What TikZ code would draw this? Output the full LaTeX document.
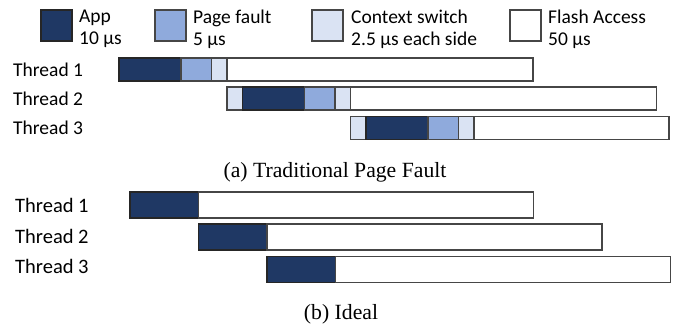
\documentclass[tikz,border=0pt]{standalone}
\usepackage{fontspec}
\setmainfont{Liberation Serif}
\newfontfamily\calib{Carlito}
\usepackage{tikz}
\usetikzlibrary{positioning}

\definecolor{appblue}{RGB}{31,56,100}
\definecolor{pfblue}{RGB}{143,170,220}
\definecolor{ctxblue}{RGB}{218,227,243}
\definecolor{edgegray}{RGB}{70,70,70}

\begin{document}
\begin{tikzpicture}[x=1pt,y=-1pt,
    seg/.style={rectangle,draw=edgegray,line width=1.2pt,inner sep=0pt,outer sep=0pt,minimum height=23pt},
    app/.style={seg,fill=appblue,draw=black!85,minimum width=62pt},
    pfault/.style={seg,fill=pfblue,minimum width=30.5pt},
    ctx/.style={seg,fill=ctxblue,minimum width=15.5pt},
    flash/.style={seg,fill=white,minimum width=306pt},
    legendbox/.style={seg,minimum width=31pt,minimum height=31pt,anchor=west},
    legendtext/.style={anchor=west,align=left,inner sep=0pt,font=\calib\fontsize{19.5}{22}\selectfont},
    thread/.style={anchor=west,inner sep=0pt,font=\calib\fontsize{19.5}{22}\selectfont},
    caption/.style={anchor=base,inner sep=0pt,font=\fontsize{21.7}{24}\selectfont}]
  \useasboundingbox (0,0) rectangle (681,333);

  % legend
  \node[legendbox,fill=appblue,draw=black!85] (kapp) at (41,25.5) {};
  \node[legendtext,right=7pt of kapp,yshift=-3.5pt] (kapptxt) {App\\10 µs};
  \node[legendbox,fill=pfblue] (kpf) at (155,25.5) {};
  \node[legendtext,right=7pt of kpf,yshift=-3.5pt] (kpftxt) {Page fault\\5 µs};
  \node[legendbox,fill=ctxblue] (kctx) at (312,25.5) {};
  \node[legendtext,right=8pt of kctx,yshift=-3.5pt] (kctxtxt) {Context switch\\2.5 µs each side};
  \node[legendbox,fill=white] (kflash) at (510,25.5) {};
  \node[legendtext,right=7pt of kflash,yshift=-3.5pt] (kflashtxt) {Flash Access\\50 µs};

  % (a) traditional page fault
  \node[thread] (a1) at (13,69.5) {Thread 1};
  \node[thread] (a2) at (13,98.5) {Thread 2};
  \node[thread] (a3) at (13,128) {Thread 3};

  \node[app,anchor=west] (a1app) at (119,69.5) {};
  \node[pfault,right=0pt of a1app] (a1pf) {};
  \node[ctx,right=0pt of a1pf] (a1out) {};
  \node[flash,right=0pt of a1out] (a1fl) {};

  \node[ctx,anchor=west] (a2in) at (227,98.5) {};
  \node[app,right=0pt of a2in] (a2app) {};
  \node[pfault,right=0pt of a2app] (a2pf) {};
  \node[ctx,right=0pt of a2pf] (a2out) {};
  \node[flash,right=0pt of a2out] (a2fl) {};

  \node[ctx,anchor=west] (a3in) at (350.5,128) {};
  \node[app,right=0pt of a3in] (a3app) {};
  \node[pfault,right=0pt of a3app] (a3pf) {};
  \node[ctx,right=0pt of a3pf] (a3out) {};
  \node[flash,right=0pt of a3out,minimum width=195pt] (a3fl) {};

  \node[caption] (capa) at (335,177) {(a) Traditional Page Fault};

  % (b) ideal
  \node[thread,font=\calib\fontsize{20.5}{23}\selectfont] (b1) at (15,205.5) {Thread 1};
  \node[thread,font=\calib\fontsize{20.5}{23}\selectfont] (b2) at (15,236.5) {Thread 2};
  \node[thread,font=\calib\fontsize{20.5}{23}\selectfont] (b3) at (15,266.5) {Thread 3};

  \node[app,anchor=west,minimum width=68.5pt,minimum height=26pt] (b1app) at (130,205) {};
  \node[flash,right=0pt of b1app,minimum width=335pt,minimum height=26pt] (b1fl) {};
  \node[app,anchor=west,minimum width=68.5pt,minimum height=26pt] (b2app) at (198.5,237) {};
  \node[flash,right=0pt of b2app,minimum width=335pt,minimum height=26pt] (b2fl) {};
  \node[app,anchor=west,minimum width=68.5pt,minimum height=26pt] (b3app) at (267,269.5) {};
  \node[flash,right=0pt of b3app,minimum width=335pt,minimum height=26pt] (b3fl) {};

  \node[caption] (capb) at (341,319) {(b) Ideal};
\end{tikzpicture}
\end{document}
